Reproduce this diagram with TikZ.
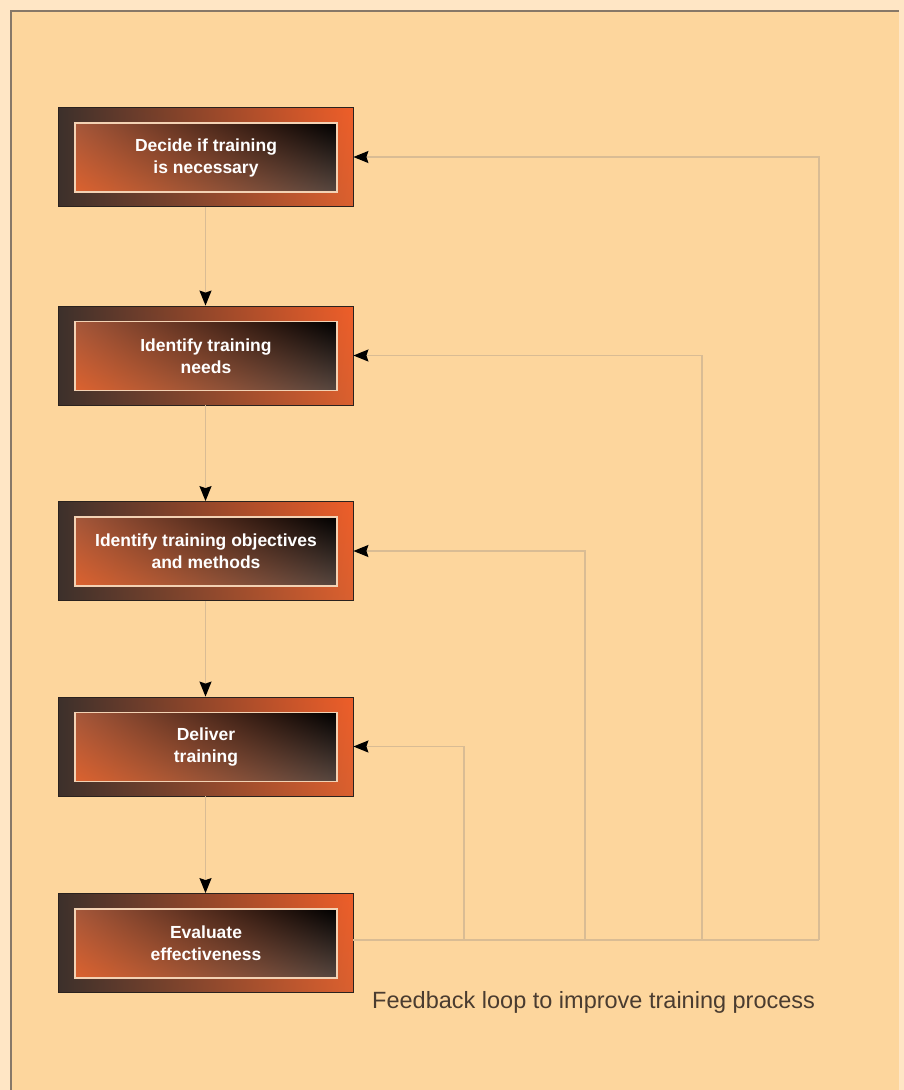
\documentclass[tikz,border=0pt]{standalone}
\usepackage{fontspec}
\setmainfont{Liberation Sans}
\usetikzlibrary{arrows.meta,shadings}
\definecolor{pagebg}{HTML}{FFE6C5}
\definecolor{panel}{HTML}{FDD69D}
\definecolor{frameline}{HTML}{877868}
\definecolor{conn}{HTML}{D9BC94}
\definecolor{darkb}{HTML}{3C302B}
\definecolor{orng}{HTML}{EE5E29}
\definecolor{orng2}{HTML}{DA602F}
\definecolor{inorng}{HTML}{DC622F}
\definecolor{inbrown}{HTML}{A5573A}
\definecolor{ingray}{HTML}{564740}
\definecolor{inline}{HTML}{F3D2B4}
\definecolor{capt}{HTML}{4A3C30}
\begin{document}
\begin{tikzpicture}[x=1pt,y=-1pt,
  outerbox/.style={shade, minimum width=295pt, minimum height=99pt, inner sep=0pt,
    draw=darkb!70!black, line width=0.8pt,
    upper left=darkb, upper right=orng, lower left=darkb, lower right=orng2},
  innerbox/.style={shade, minimum width=262pt, minimum height=69pt, inner sep=0pt,
    draw=inline, line width=1.2pt,
    upper left=inbrown, upper right=black, lower left=inorng, lower right=ingray,
    text=white, font=\fontsize{17.5}{22}\selectfont\bfseries, align=center},
  feed/.style={draw=conn, line width=1.5pt},
  tip/.style={-{Stealth[length=15pt,width=12pt,inset=2pt,color=black]}},
  captext/.style={font=\fontsize{23.5}{28}\selectfont, text=capt, inner sep=0pt}]
\useasboundingbox (0,0) rectangle (904,1090);
\fill[pagebg] (0,0) rectangle (904,1090);
\fill[panel] (11,11) rectangle (899,1090);
\draw[frameline, line width=2pt] (11,1091) -- (11,11) -- (899,11);
% boxes
\node[outerbox] (b1) at (205.5,157) {};
\node[outerbox] (b2) at (205.5,355.5) {};
\node[outerbox] (b3) at (205.5,551) {};
\node[outerbox] (b4) at (205.5,746.5) {};
\node[outerbox] (b5) at (205.5,943) {};
\node[innerbox] (t1) at (206,157.5) {Decide if training\\is necessary};
\node[innerbox] (t2) at (206,356) {Identify training\\needs};
\node[innerbox] (t3) at (206,551.5) {Identify training objectives\\and methods};
\node[innerbox] (t4) at (206,747) {Deliver\\training};
\node[innerbox] (t5) at (206,943.5) {Evaluate\\effectiveness};
% main flow
\draw[feed,tip] (b1.south) -- (b2.north);
\draw[feed,tip] (b2.south) -- (b3.north);
\draw[feed,tip] (b3.south) -- (b4.north);
\draw[feed,tip] (b4.south) -- (b5.north);
% feedback loop
\coordinate (c1) at (819,940);
\coordinate (c2) at (702,940);
\coordinate (c3) at (585,940);
\coordinate (c4) at (464,940);
\draw[feed] (b5.east |- c1) -- (c1);
\draw[feed,tip] (c1) |- (b1.east);
\draw[feed,tip] (c2) |- (b2.east);
\draw[feed,tip] (c3) |- (b3.east);
\draw[feed,tip] (c4) |- (b4.east);
\node[captext, anchor=base west] (cap) at (372,1008) {Feedback loop to improve training process};
\end{tikzpicture}
\end{document}
